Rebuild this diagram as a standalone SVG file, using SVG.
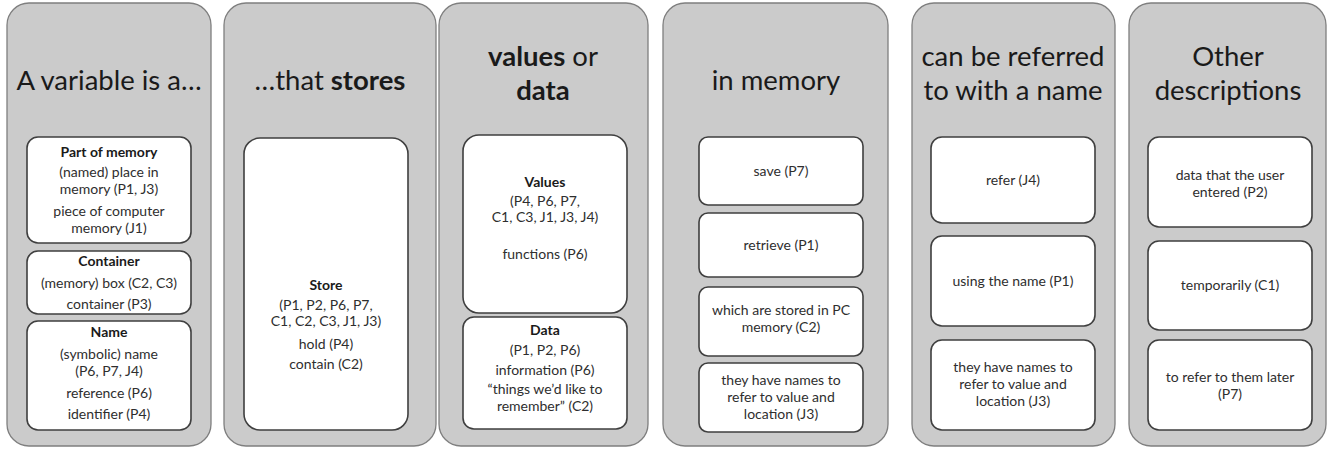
<svg xmlns="http://www.w3.org/2000/svg" width="1330" height="451" viewBox="0 0 1330 451">
<style>
.col{fill:#cbcbcb;stroke:#7f7f7f;stroke-width:1.3}
.box{fill:#ffffff;stroke:#3f3f3f;stroke-width:1.6}
.t{font-family:Lato,"Liberation Sans",sans-serif;font-size:27.5px;fill:#1a1a1a;text-anchor:middle}
.b{font-family:Lato,"Liberation Sans",sans-serif;font-size:14px;fill:#2e2e2e;text-anchor:middle}
.h{font-weight:bold;fill:#1a1a1a}
.bold{font-weight:bold}
</style>
<g id="col1">
<rect class="col" x="7" y="3" width="204" height="443" rx="22"/>
<text class="t" x="109" y="90">A variable is a…</text>
<g id="part-of-memory">
<rect class="box" x="27" y="137" width="164" height="106" rx="11"/>
<text class="b h" x="109" y="157">Part of memory</text>
<text class="b" x="109" y="177">(named) place in</text>
<text class="b" x="109" y="194">memory (P1, J3)</text>
<text class="b" x="109" y="216">piece of computer</text>
<text class="b" x="109" y="233">memory (J1)</text>
</g>
<g id="container">
<rect class="box" x="27" y="251" width="164" height="63" rx="11"/>
<text class="b h" x="109" y="266">Container</text>
<text class="b" x="109" y="288">(memory) box (C2, C3)</text>
<text class="b" x="109" y="309">container (P3)</text>
</g>
<g id="name">
<rect class="box" x="27" y="321" width="164" height="109" rx="11"/>
<text class="b h" x="109" y="337">Name</text>
<text class="b" x="109" y="359">(symbolic) name</text>
<text class="b" x="109" y="376">(P6, P7, J4)</text>
<text class="b" x="109" y="398">reference (P6)</text>
<text class="b" x="109" y="419">identifier (P4)</text>
</g>
</g>
<g id="col2">
<rect class="col" x="224" y="3" width="212" height="443" rx="22"/>
<text class="t" x="330" y="90">…that <tspan class="bold">stores</tspan></text>
<g id="store">
<rect class="box" x="244" y="138" width="164" height="292" rx="16"/>
<text class="b h" x="326" y="290">Store</text>
<text class="b" x="326" y="310">(P1, P2, P6, P7,</text>
<text class="b" x="326" y="326">C1, C2, C3, J1, J3)</text>
<text class="b" x="326" y="349">hold (P4)</text>
<text class="b" x="326" y="369">contain (C2)</text>
</g>
</g>
<g id="col3">
<rect class="col" x="439" y="3" width="209" height="443" rx="22"/>
<text class="t" x="543" y="66"><tspan class="bold">values</tspan> or</text>
<text class="t bold" x="543" y="100">data</text>
<g id="values">
<rect class="box" x="463" y="135" width="164" height="178" rx="16"/>
<text class="b h" x="545" y="187">Values</text>
<text class="b" x="545" y="206">(P4, P6, P7,</text>
<text class="b" x="545" y="222">C1, C3, J1, J3, J4)</text>
<text class="b" x="545" y="259">functions (P6)</text>
</g>
<g id="data">
<rect class="box" x="463" y="317" width="164" height="112" rx="11"/>
<text class="b h" x="545" y="335">Data</text>
<text class="b" x="545" y="355">(P1, P2, P6)</text>
<text class="b" x="545" y="375">information (P6)</text>
<text class="b" x="545" y="394">“things we’d like to</text>
<text class="b" x="545" y="411">remember” (C2)</text>
</g>
</g>
<g id="col4">
<rect class="col" x="663" y="3" width="225" height="443" rx="22"/>
<text class="t" x="776" y="90">in memory</text>
<g id="save">
<rect class="box" x="699" y="137" width="164" height="68" rx="9"/>
<text class="b" x="781" y="176">save (P7)</text>
</g>
<g id="retrieve">
<rect class="box" x="699" y="213" width="164" height="64" rx="9"/>
<text class="b" x="781" y="250">retrieve (P1)</text>
</g>
<g id="stored-pc">
<rect class="box" x="699" y="287" width="164" height="69" rx="9"/>
<text class="b" x="781" y="315">which are stored in PC</text>
<text class="b" x="781" y="332">memory (C2)</text>
</g>
<g id="names-location-1">
<rect class="box" x="699" y="363" width="164" height="69" rx="9"/>
<text class="b" x="781" y="385">they have names to</text>
<text class="b" x="781" y="402">refer to value and</text>
<text class="b" x="781" y="419">location (J3)</text>
</g>
</g>
<g id="col5">
<rect class="col" x="912" y="3" width="203" height="443" rx="22"/>
<text class="t" x="1013" y="66">can be referred</text>
<text class="t" x="1013" y="100">to with a name</text>
<g id="refer">
<rect class="box" x="931" y="137" width="164" height="86" rx="11"/>
<text class="b" x="1013" y="185">refer (J4)</text>
</g>
<g id="using-name">
<rect class="box" x="931" y="236" width="164" height="90" rx="11"/>
<text class="b" x="1013" y="286">using the name (P1)</text>
</g>
<g id="names-location-2">
<rect class="box" x="931" y="340" width="164" height="90" rx="11"/>
<text class="b" x="1013" y="372">they have names to</text>
<text class="b" x="1013" y="389">refer to value and</text>
<text class="b" x="1013" y="406">location (J3)</text>
</g>
</g>
<g id="col6">
<rect class="col" x="1129" y="3" width="197" height="443" rx="22"/>
<text class="t" x="1228" y="66">Other</text>
<text class="t" x="1228" y="100">descriptions</text>
<g id="user-entered">
<rect class="box" x="1148" y="137" width="164" height="90" rx="11"/>
<text class="b" x="1230" y="180">data that the user</text>
<text class="b" x="1230" y="197">entered (P2)</text>
</g>
<g id="temporarily">
<rect class="box" x="1148" y="241" width="164" height="89" rx="11"/>
<text class="b" x="1230" y="290">temporarily (C1)</text>
</g>
<g id="refer-later">
<rect class="box" x="1148" y="340" width="164" height="90" rx="11"/>
<text class="b" x="1230" y="382">to refer to them later</text>
<text class="b" x="1230" y="399">(P7)</text>
</g>
</g>
</svg>
